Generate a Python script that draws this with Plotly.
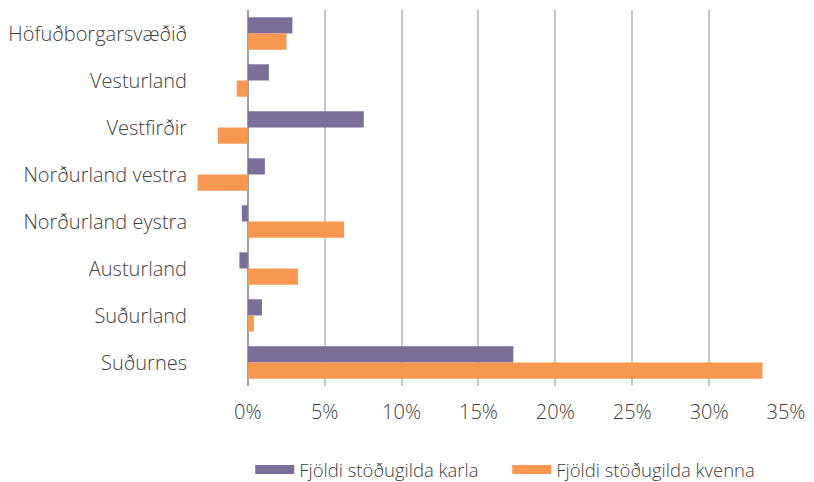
import plotly.graph_objects as go

categories = ["Höfuðborgarsvæðið", "Vesturland", "Vestfirðir", "Norðurland vestra",
              "Norðurland eystra", "Austurland", "Suðurland", "Suðurnes"]
karla = [0.029, 0.0137, 0.0754, 0.0111, -0.0039, -0.0055, 0.0092, 0.1727]
kvenna = [0.0252, -0.0072, -0.0196, -0.0326, 0.0626, 0.0326, 0.0039, 0.3347]
series_names = ["Fjöldi stöðugilda karla", "Fjöldi stöðugilda kvenna"]
tick_vals = [0, 0.05, 0.10, 0.15, 0.20, 0.25, 0.30, 0.35]
tick_text = ["0%", "5%", "10%", "15%", "20%", "25%", "30%", "35%"]

purple = "#7B6F9A"
orange = "#F79750"
text_color = "#404040"
font_family = "'Open Sans', sans-serif"

fig = go.Figure()
for vals, name, color in [(karla, series_names[0], purple), (kvenna, series_names[1], orange)]:
    fig.add_trace(go.Bar(y=categories, x=vals, orientation="h", name=name,
                         marker=dict(color=color, line=dict(width=0)),
                         showlegend=False, legendgroup=name))
for name, color in [(series_names[0], purple), (series_names[1], orange)]:
    fig.add_trace(go.Scatter(x=[None], y=[None], mode="lines", name=name,
                             line=dict(color=color, width=9), legendgroup=name))

fig.update_layout(
    width=806, height=474,
    margin=dict(l=186, r=28, t=2, b=96, autoexpand=False),
    plot_bgcolor="white", paper_bgcolor="white",
    barmode="group", bargap=0.31, bargroupgap=0,
    font=dict(family=font_family, color=text_color, size=20, weight=300),
    showlegend=True,
    legend=dict(orientation="h", x=0.095, xanchor="left", y=-0.2234, yanchor="middle",
                font=dict(size=18.5, color=text_color, weight=300), traceorder="normal",
                itemwidth=39, entrywidth=203, entrywidthmode="pixels"),
    xaxis=dict(range=[-0.035, 0.35], tickvals=tick_vals, ticktext=tick_text,
               showgrid=True, gridcolor="#C6C6C6", gridwidth=1.5,
               zeroline=True, zerolinecolor="#A0A0A0", zerolinewidth=1.5,
               showline=False, ticks="", ticklabelstandoff=12, automargin=False,
               tickfont=dict(size=20, color=text_color, weight=300)),
    yaxis=dict(autorange="reversed", showgrid=False, zeroline=False, showline=False,
               ticks="", ticklabelstandoff=6, automargin=False,
               tickfont=dict(size=20, color=text_color, weight=300)),
)

fig.write_html("out.html")
